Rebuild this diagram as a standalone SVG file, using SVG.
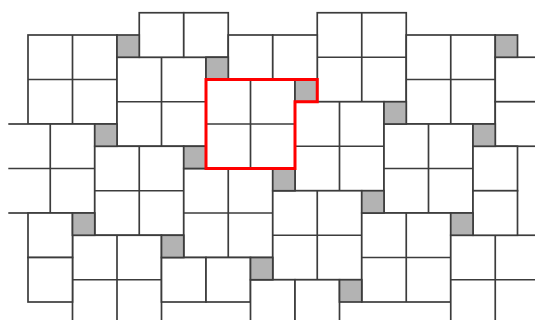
<svg xmlns="http://www.w3.org/2000/svg" width="535" height="320" viewBox="0 0 535 320">
<style>
.ln{fill:#ffffff;stroke:#3c3c3c;stroke-width:1.7}
.gr{fill:#b3b3b3;stroke:#3c3c3c;stroke-width:1.7}
.red{fill:none;stroke:#ff0000;stroke-width:3;stroke-linejoin:miter}
</style>
<defs>
<g id="big"><rect class="ln" width="89" height="89"/><path class="ln" d="M44.5,0V89M0,44.5H89"/></g>
<rect id="cell" class="ln" width="44.5" height="44.5"/>
<rect id="sm" class="gr" width="22.25" height="22.25"/>
<clipPath id="clip"><rect x="8.3" y="0" width="540" height="330"/></clipPath>
</defs>
<rect width="535" height="320" fill="#ffffff"/>
<g clip-path="url(#clip)">
<g id="large-squares">
<use href="#big" x="317.25" y="12.75"/>
<use href="#big" x="406.25" y="35"/>
<use href="#big" x="28" y="35"/>
<use href="#big" x="117" y="57.25"/>
<use href="#big" x="206" y="79.5"/>
<use href="#big" x="295" y="101.75"/>
<use href="#big" x="384" y="124"/>
<use href="#big" x="5.75" y="124"/>
<use href="#big" x="94.75" y="146.25"/>
<use href="#big" x="183.75" y="168.5"/>
<use href="#big" x="272.75" y="190.75"/>
<use href="#big" x="361.75" y="213"/>
<use href="#big" x="450.75" y="235.25"/>
<use href="#big" x="72.5" y="235.25"/>
</g>
<g id="partial-cells">
<use href="#cell" x="139.25" y="12.75"/>
<use href="#cell" x="183.75" y="12.75"/>
<use href="#cell" x="228.25" y="35"/>
<use href="#cell" x="272.75" y="35"/>
<use href="#cell" x="495.25" y="57.25"/>
<use href="#cell" x="495.25" y="101.75"/>
<use href="#cell" x="473" y="146.25"/>
<use href="#cell" x="473" y="190.75"/>
<use href="#cell" x="28" y="213"/>
<use href="#cell" x="28" y="257.5"/>
<use href="#cell" x="161.5" y="257.5"/>
<use href="#cell" x="206" y="257.5"/>
<use href="#cell" x="250.5" y="279.75"/>
<use href="#cell" x="295" y="279.75"/>
</g>
<g id="small-squares">
<use href="#sm" x="495.25" y="35"/>
<use href="#sm" x="117" y="35"/>
<use href="#sm" x="206" y="57.25"/>
<use href="#sm" x="295" y="79.5"/>
<use href="#sm" x="384" y="101.75"/>
<use href="#sm" x="473" y="124"/>
<use href="#sm" x="94.75" y="124"/>
<use href="#sm" x="183.75" y="146.25"/>
<use href="#sm" x="272.75" y="168.5"/>
<use href="#sm" x="361.75" y="190.75"/>
<use href="#sm" x="450.75" y="213"/>
<use href="#sm" x="72.5" y="213"/>
<use href="#sm" x="161.5" y="235.25"/>
<use href="#sm" x="250.5" y="257.5"/>
<use href="#sm" x="339.5" y="279.75"/>
</g>
</g>
<g id="highlight">
<path class="red" d="M206,79.5H317.25V101.75H295V168.5H206Z"/>
</g>
</svg>
